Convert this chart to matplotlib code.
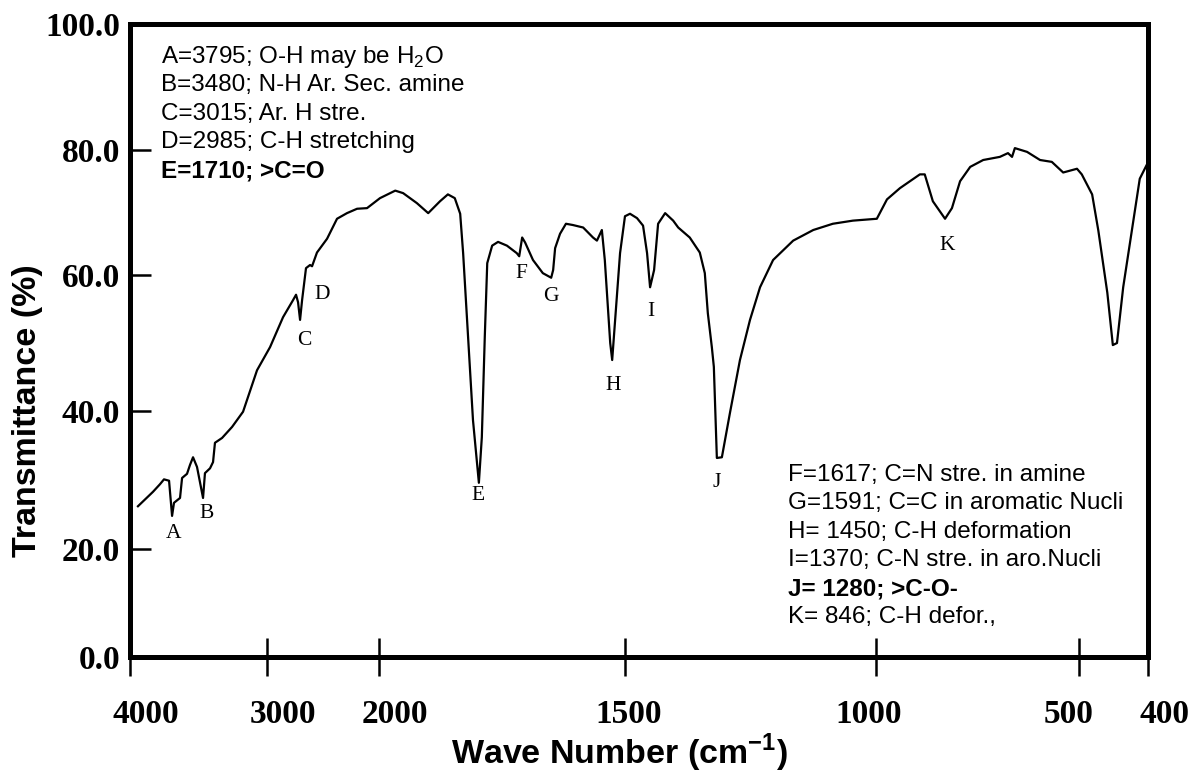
import numpy as np
import matplotlib
matplotlib.use('Agg')
from matplotlib import pyplot as plt
from matplotlib import transforms as mtransforms
from matplotlib.ticker import FixedLocator, FixedFormatter

# IR spectrum (wave number in cm-1, transmittance in %)
wavenumber = [3942, 3832, 3781, 3752, 3715, 3693, 3679, 3635, 3620, 3584,
              3562, 3540, 3511, 3467, 3453, 3416, 3394, 3380, 3328, 3255,
              3175, 3073, 2973, 2857, 2768, 2741, 2723, 2705, 2687, 2652,
              2616, 2598, 2554, 2464, 2375, 2286, 2196, 2107, 1998, 1967,
              1951, 1923, 1900, 1876, 1860, 1846, 1835, 1829, 1819, 1809,
              1797, 1791, 1785, 1780, 1770, 1758, 1740, 1720, 1715, 1709,
              1703, 1687, 1667, 1650, 1646, 1642, 1632, 1620, 1606, 1585,
              1565, 1557, 1547, 1541, 1530, 1526, 1520, 1510, 1500, 1490,
              1476, 1464, 1456, 1450, 1442, 1434, 1420, 1404, 1394, 1371,
              1351, 1341, 1335, 1327, 1323, 1317, 1307, 1291, 1271, 1251,
              1231, 1205, 1165, 1125, 1086, 1046, 998, 973, 941, 892,
              880, 860, 830, 813, 793, 768, 736, 695, 675, 665,
              658, 628, 596, 567, 539, 505, 496, 481, 472, 459,
              451, 445, 436, 422, 412, 402]
transmittance = [26.2, 28.3, 29.4, 30.1, 29.9, 24.8, 26.7, 27.4, 30.3, 30.9,
                 32.2, 33.3, 31.9, 27.4, 31.0, 31.7, 32.6, 35.4, 36.1, 37.7,
                 39.9, 46.0, 49.4, 53.8, 56.3, 57.1, 56.0, 53.4, 56.3, 61.1,
                 61.6, 61.4, 63.6, 65.8, 69.0, 69.9, 70.6, 70.7, 72.3, 73.5,
                 73.1, 71.5, 69.9, 71.8, 72.9, 72.3, 69.8, 63.5, 50.9, 38.7,
                 29.6, 36.2, 50.9, 61.9, 64.7, 65.3, 64.7, 63.5, 63.0, 66.0,
                 65.2, 62.4, 60.3, 59.6, 60.8, 64.3, 66.6, 68.2, 68.0, 67.6,
                 66.0, 65.5, 67.2, 62.4, 50.0, 47.5, 53.4, 63.5, 69.4, 69.8,
                 69.1, 67.9, 63.5, 58.2, 60.8, 68.2, 69.9, 68.7, 67.6, 66.0,
                 63.6, 60.3, 54.4, 49.4, 46.5, 33.2, 33.3, 39.7, 47.5, 53.4,
                 58.2, 62.4, 65.5, 67.2, 68.2, 68.7, 69.0, 72.1, 73.9, 76.1,
                 76.1, 71.8, 69.0, 70.7, 75.0, 77.3, 78.4, 78.9, 79.5, 78.9,
                 80.3, 79.7, 78.4, 78.1, 76.4, 77.0, 76.1, 72.9, 67.1, 57.4,
                 49.7, 50.0, 58.2, 68.2, 75.4, 77.6]

# peak letters and where they sit
peak_letters = ['A', 'B', 'C', 'D', 'E', 'F', 'G', 'H', 'I', 'J', 'K']
peak_wn = [3686, 3438, 2670, 2509, 1799, 1711, 1650, 1524, 1448, 1317, 825]
peak_t = [22.2, 25.1, 50.3, 57.2, 27.7, 60.3, 56.9, 43.7, 54.6, 29.7, 64.7]

notes_left = ['A=3795; O-H may be H$_2$O', 'B=3480; N-H Ar. Sec. amine',
              'C=3015; Ar. H stre.', 'D=2985; C-H stretching',
              'E=1710; >C=O']
notes_right = ['F=1617; C=N stre. in amine', 'G=1591; C=C in aromatic Nucli',
               'H= 1450; C-H deformation', 'I=1370; C-N stre. in aro.Nucli',
               'J= 1280; >C-O-', 'K= 846; C-H defor.,']
bold_notes = ['E=1710; >C=O', 'J= 1280; >C-O-']

x_ticks = [4000, 3000, 2000, 1500, 1000, 500, 400]
y_ticks = [0, 20, 40, 60, 80, 100]

# the printed axes are not evenly spaced: piecewise scales
x_knots = [400, 500, 1000, 1500, 2000, 3000, 4000]
x_where = [0.0, 0.0678, 0.2672, 0.5138, 0.7554, 0.8654, 1.0]
y_knots = [0, 20, 40, 60, 80, 100]
y_where = [0.0, 0.1706, 0.3886, 0.6035, 0.8010, 1.0]
# the printed x labels sit a little off their ticks (pixels)
x_label_shift = [16, 16, 16, 4, -7, -10, 16]


def x_fwd(v):
    return np.interp(v, x_knots, x_where)


def x_inv(u):
    return np.interp(u, x_where, x_knots)


def y_fwd(v):
    return np.interp(v, y_knots, y_where)


def y_inv(u):
    return np.interp(u, y_where, y_knots)


plt.rcParams['mathtext.fontset'] = 'custom'
plt.rcParams['mathtext.rm'] = 'Liberation Sans'
plt.rcParams['mathtext.bf'] = 'Liberation Sans:bold'

fig = plt.figure(figsize=(11.96, 7.83), dpi=100)
ax = fig.add_axes([0.1087, 0.1609, 0.8512, 0.8084])
ax.set_xscale('function', functions=(x_fwd, x_inv))
ax.set_yscale('function', functions=(y_fwd, y_inv))

ax.plot(wavenumber, transmittance, color='black', lw=1.6)
ax.set_xlim(4000, 400)
ax.set_ylim(0, 100)

for s in ax.spines.values():
    s.set_linewidth(3.6)

ax.xaxis.set_major_locator(FixedLocator(x_ticks))
ax.xaxis.set_major_formatter(FixedFormatter([str(t) for t in x_ticks]))
ax.xaxis.set_minor_locator(FixedLocator([]))
ax.yaxis.set_major_locator(FixedLocator(y_ticks))
ax.yaxis.set_major_formatter(FixedFormatter([f'{t:.1f}' for t in y_ticks]))
ax.yaxis.set_minor_locator(FixedLocator([]))
ax.tick_params(axis='x', direction='inout', length=28, width=1.8, pad=16)
ax.tick_params(axis='y', direction='in', length=15, width=1.8, pad=7)
for lab in ax.get_xticklabels() + ax.get_yticklabels():
    lab.set_fontfamily('Liberation Serif')
    lab.set_fontweight('bold')
    lab.set_fontsize(24)
for lab, dx in zip(ax.get_xticklabels(), x_label_shift):
    lab.set_transform(lab.get_transform()
                      + mtransforms.ScaledTranslation(dx / 100, 0, fig.dpi_scale_trans))

ax.set_xlabel('Wave Number (cm$^{\\mathbf{-1}}$)', fontfamily='Liberation Sans',
              fontweight='bold', fontsize=24.5)
ax.xaxis.set_label_coords(0.481, -0.118)
ax.set_ylabel('Transmittance (%)', fontfamily='Liberation Sans',
              fontweight='bold', fontsize=24.5)
ax.yaxis.set_label_coords(-0.0855, 0.39)

for lt, w, t in zip(peak_letters, peak_wn, peak_t):
    ax.text(w, t, lt, fontfamily='Liberation Serif', fontsize=15.5,
            ha='center', va='center')

for i, line in enumerate(notes_left):
    ax.text(0.0305, 0.948 - i * 0.0449, line, transform=ax.transAxes,
            fontfamily='Liberation Sans', fontsize=17.5, va='center',
            fontweight='bold' if line in bold_notes else 'normal')
for i, line in enumerate(notes_right):
    ax.text(0.6464, 0.2875 - i * 0.0449, line, transform=ax.transAxes,
            fontfamily='Liberation Sans', fontsize=17.5, va='center',
            fontweight='bold' if line in bold_notes else 'normal')

fig.savefig('out.png', dpi=100)
